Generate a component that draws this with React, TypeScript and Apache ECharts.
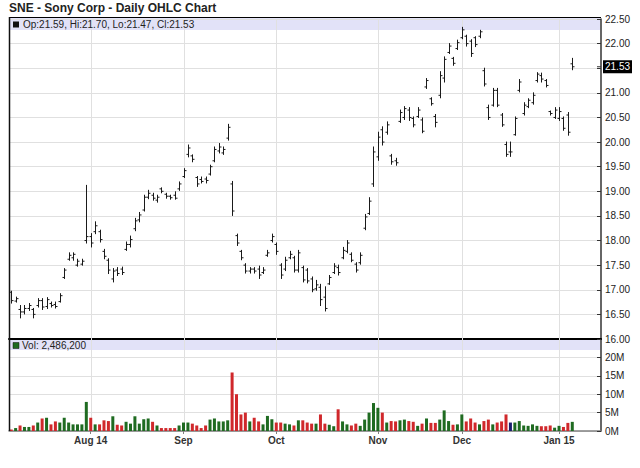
import React, { useEffect, useRef } from "react";
import * as echarts from "echarts";

// ---------- DATA ----------
const dates = [
  "2014-07-08","2014-07-09","2014-07-10","2014-07-11","2014-07-14","2014-07-15","2014-07-16","2014-07-17","2014-07-18","2014-07-21",
  "2014-07-22","2014-07-23","2014-07-24","2014-07-25","2014-07-28","2014-07-29","2014-07-30","2014-07-31","2014-08-01","2014-08-04",
  "2014-08-05","2014-08-06","2014-08-07","2014-08-08","2014-08-11","2014-08-12","2014-08-13","2014-08-14","2014-08-15","2014-08-18",
  "2014-08-19","2014-08-20","2014-08-21","2014-08-22","2014-08-25","2014-08-26","2014-08-27","2014-08-28","2014-08-29","2014-09-02",
  "2014-09-03","2014-09-04","2014-09-05","2014-09-08","2014-09-09","2014-09-10","2014-09-11","2014-09-12","2014-09-15","2014-09-16",
  "2014-09-17","2014-09-18","2014-09-19","2014-09-22","2014-09-23","2014-09-24","2014-09-25","2014-09-26","2014-09-29","2014-09-30",
  "2014-10-01","2014-10-02","2014-10-03","2014-10-06","2014-10-07","2014-10-08","2014-10-09","2014-10-10","2014-10-13","2014-10-14",
  "2014-10-15","2014-10-16","2014-10-17","2014-10-20","2014-10-21","2014-10-22","2014-10-23","2014-10-24","2014-10-27","2014-10-28",
  "2014-10-29","2014-10-30","2014-10-31","2014-11-03","2014-11-04","2014-11-05","2014-11-06","2014-11-07","2014-11-10","2014-11-11",
  "2014-11-12","2014-11-13","2014-11-14","2014-11-17","2014-11-18","2014-11-19","2014-11-20","2014-11-21","2014-11-24","2014-11-25",
  "2014-11-26","2014-11-28","2014-12-01","2014-12-02","2014-12-03","2014-12-04","2014-12-05","2014-12-08","2014-12-09","2014-12-10",
  "2014-12-11","2014-12-12","2014-12-15","2014-12-16","2014-12-17","2014-12-18","2014-12-19","2014-12-22","2014-12-23","2014-12-24",
  "2014-12-26","2014-12-29","2014-12-30","2014-12-31","2015-01-02","2015-01-05","2015-01-06","2015-01-07",
];

// empty trading-day slots on the right of the last bar
const padDates = ["2015-01-08","2015-01-09","2015-01-12","2015-01-13","2015-01-14","2015-01-15"];

const opens = [
  16.95,16.77,16.60,16.55,16.62,16.60,16.68,16.78,16.66,16.72,
  16.70,16.76,17.25,17.62,17.65,17.50,17.52,18.00,18.08,18.18,
  18.18,17.78,17.60,17.22,17.40,17.42,17.82,17.92,18.24,18.42,
  18.62,18.88,18.92,18.82,19.05,18.94,18.90,18.92,19.05,19.30,
  19.75,19.72,19.28,19.24,19.25,19.35,19.62,19.82,19.78,20.08,
  19.15,18.10,17.78,17.50,17.38,17.42,17.42,17.35,17.70,18.00,
  17.92,17.50,17.42,17.65,17.65,17.40,17.45,17.40,17.22,17.02,
  17.05,16.85,17.12,17.35,17.45,17.65,17.78,17.72,17.52,17.55,
  18.25,18.55,19.15,19.70,20.25,20.20,19.72,19.62,20.42,20.50,
  20.65,20.48,20.52,20.45,21.12,20.88,20.52,20.95,21.30,21.82,
  21.70,21.90,22.12,22.15,22.05,22.12,22.15,21.45,20.70,20.75,
  21.05,20.55,19.95,19.80,20.15,21.05,20.58,20.72,20.80,21.25,
  21.35,21.25,20.62,20.50,20.48,20.48,20.55,21.59,
];
const highs = [
  16.97,16.85,16.68,16.68,16.72,16.62,16.82,16.82,16.84,16.75,
  16.75,16.92,17.43,17.75,17.75,17.62,17.62,19.12,18.14,18.38,
  18.21,17.82,17.63,17.43,17.45,17.46,17.97,18.09,18.45,18.57,
  18.92,19.02,18.96,18.92,19.07,18.96,18.92,18.99,19.19,19.46,
  19.94,19.74,19.30,19.29,19.29,19.53,19.90,19.97,19.90,20.36,
  19.20,18.13,17.80,17.53,17.45,17.45,17.48,17.45,17.80,18.13,
  17.95,17.53,17.66,17.78,17.68,17.80,17.48,17.43,17.26,17.19,
  17.11,17.06,17.29,17.53,17.50,17.86,18.00,17.75,17.55,17.75,
  18.53,18.87,19.90,20.20,20.31,20.41,19.75,19.67,20.65,20.72,
  20.70,20.51,20.70,20.49,21.29,20.90,20.56,21.43,21.73,22.00,
  21.72,22.07,22.33,22.17,22.08,22.14,22.27,21.50,20.75,21.09,
  21.09,20.58,20.00,20.00,20.51,21.27,20.80,20.88,21.00,21.41,
  21.40,21.27,20.63,20.70,20.70,20.51,20.60,21.70,
];
const lows = [
  16.73,16.75,16.43,16.51,16.58,16.43,16.65,16.60,16.62,16.65,
  16.63,16.75,17.23,17.60,17.60,17.48,17.50,17.95,17.87,18.14,
  17.97,17.63,17.33,17.16,17.29,17.31,17.80,17.87,18.20,18.38,
  18.60,18.85,18.82,18.78,18.97,18.86,18.84,18.84,19.02,19.28,
  19.70,19.60,19.10,19.17,19.17,19.33,19.60,19.78,19.75,20.04,
  18.51,17.90,17.61,17.34,17.34,17.34,17.23,17.33,17.68,17.97,
  17.72,17.23,17.39,17.63,17.36,17.36,17.16,17.14,16.96,16.99,
  16.68,16.57,17.11,17.33,17.30,17.63,17.75,17.57,17.36,17.52,
  18.22,18.53,19.10,19.63,19.94,20.16,19.55,19.53,20.40,20.46,
  20.44,20.31,20.50,20.19,21.09,20.75,20.31,20.90,21.22,21.80,
  21.56,21.88,22.10,21.95,21.74,21.94,22.12,21.14,20.46,20.73,
  20.72,20.32,19.71,19.71,20.14,21.02,20.55,20.70,20.77,21.22,
  21.22,21.12,20.55,20.48,20.44,20.24,20.14,21.47,
];
const closes = [
  16.78,16.82,16.55,16.62,16.68,16.50,16.78,16.65,16.80,16.68,
  16.66,16.88,17.40,17.70,17.72,17.58,17.58,18.08,17.95,18.30,
  18.02,17.68,17.40,17.38,17.33,17.35,17.92,18.02,18.40,18.52,
  18.88,18.96,18.86,18.88,19.00,18.90,18.87,18.86,19.15,19.42,
  19.88,19.65,19.15,19.20,19.22,19.50,19.85,19.90,19.85,20.30,
  18.60,17.95,17.65,17.38,17.42,17.38,17.30,17.40,17.75,18.08,
  17.78,17.30,17.60,17.72,17.40,17.75,17.20,17.18,17.00,17.10,
  16.80,16.62,17.25,17.48,17.35,17.80,17.95,17.60,17.40,17.70,
  18.48,18.80,19.80,20.10,20.00,20.35,19.60,19.58,20.60,20.68,
  20.50,20.35,20.65,20.22,21.25,20.78,20.40,21.35,21.68,21.95,
  21.60,22.02,22.28,22.00,21.80,21.98,22.24,21.18,20.50,21.05,
  20.75,20.35,19.75,19.80,20.48,21.22,20.75,20.85,20.95,21.38,
  21.28,21.15,20.58,20.65,20.62,20.28,20.20,21.53,
];
// volume in millions of shares
const volumesM = [
  0.4,0.8,1.5,1.1,1.1,1.5,2.3,3.4,3.6,1.8,
  2.6,2.3,3.6,2.3,1.8,1.8,1.8,7.9,3.6,1.8,
  1.8,2.9,2.7,4.0,1.7,1.5,2.5,2.0,4.0,2.0,
  3.2,3.4,2.5,1.5,0.8,0.8,0.8,0.8,1.5,2.3,
  2.3,2.0,1.5,0.8,1.5,3.1,3.4,2.6,2.6,2.9,
  15.9,10.0,4.5,5.0,2.6,3.6,2.6,1.8,4.1,3.2,
  2.3,2.3,2.0,1.8,1.5,2.9,2.9,2.3,2.0,2.0,
  4.5,2.0,1.7,1.3,5.9,2.6,1.8,1.5,2.0,1.4,
  3.1,5.0,7.6,6.3,5.0,2.3,2.7,2.6,2.9,3.1,
  2.7,2.5,1.4,2.0,3.4,2.2,2.2,3.1,5.6,2.7,
  1.7,1.8,4.5,2.6,3.4,2.3,1.8,2.7,3.1,1.8,
  2.3,2.6,4.5,2.3,2.3,2.7,1.5,1.4,1.8,1.4,
  1.3,1.3,1.5,0.9,1.4,1.1,2.2,2.4862,
];
// u = up day, d = down day, n = unchanged
const volumeDirection = (
  "duduududud" + "duuuuuuudu" + "dddudduuuu" + "uududdddu u".replace(" ", "") +
  "udddduuuuu" + "ddddudduuu" + "dduududddu" + "dduuduuddu" +
  "uuuududduu" + "ddududduuu" + "duuddduddu" + "dddnuuuuuu" + "ddduuddu"
).split("");

const monthTickDates = ["2014-08-01", "2014-09-02", "2014-10-01", "2014-11-03", "2014-12-01", "2015-01-02"];
const monthTickLabels = ["Aug 14", "Sep", "Oct", "Nov", "Dec", "Jan 15"];

const chartTitle = "SNE - Sony Corp - Daily OHLC Chart";
const priceMin = 16;
const priceMax = 22.5;
const priceStep = 0.5;
const volMax = 25;
const volStep = 5;

// ---------- STYLE ----------
const FONT = '"Liberation Sans", Arial, Helvetica, sans-serif';
const UP = "#1f6b21";
const DOWN = "#d0282b";
const FLAT = "#1b1f6e";
const GRID = "#e0e0e0";
const BAND = "#e2e2f8";

export default function App() {
  const ref = useRef<HTMLDivElement>(null);

  useEffect(() => {
    if (!ref.current) return;
    const chart = echarts.init(ref.current, undefined, { renderer: "svg" });

    const categories = [...dates, ...padDates];
    const monthIdx = monthTickDates.map((d) => categories.indexOf(d));
    const isMonth = (i: number) => monthIdx.includes(i);
    const last = dates.length - 1;

    const ohlcData = dates.map((_, i) => [i, opens[i], highs[i], lows[i], closes[i]]);
    const volData = volumesM.map((v, i) => ({
      value: v * 1e6,
      itemStyle: {
        color: volumeDirection[i] === "u" ? UP : volumeDirection[i] === "d" ? DOWN : FLAT,
      },
    }));

    const ohlcText =
      `Op:${opens[last].toFixed(2)}, Hi:${highs[last].toFixed(2)}, ` +
      `Lo:${lows[last].toFixed(2)}, Cl:${closes[last].toFixed(2)}`;
    const volText = `Vol: ${Math.round(volumesM[last] * 1e6).toLocaleString("en-US")}`;

    const vGrid = (yVal: number) => (params: any, api: any) => {
      const cs = params.coordSys;
      const x = Math.round(api.coord([api.value(0), yVal])[0]) + 0.5;
      return {
        type: "line",
        shape: { x1: x, y1: cs.y, x2: x, y2: cs.y + cs.height },
        style: { stroke: GRID, lineWidth: 1 },
      };
    };

    const yAxisCommon = {
      type: "value",
      position: "right",
      axisLine: { show: true, lineStyle: { color: "#333", width: 1.5 } },
      axisTick: { show: true, inside: true, length: 4, lineStyle: { color: "#333" } },
      splitLine: { show: true, lineStyle: { color: GRID, width: 1 } },
    };

    const baseGraphics = [
      { id: "band0", type: "rect", z: 0, silent: true, shape: { x: 10, y: 18, width: 590, height: 12 }, style: { fill: BAND } },
      { id: "band1", type: "rect", z: 0, silent: true, shape: { x: 10, y: 340, width: 590, height: 10 }, style: { fill: BAND } },
      { id: "topBorder", type: "line", z: 5, shape: { x1: 9, y1: 17.5, x2: 601, y2: 17.5 }, style: { stroke: "#000", lineWidth: 1 } },
      { id: "leftBorder", type: "line", z: 5, shape: { x1: 9.5, y1: 17, x2: 9.5, y2: 431 }, style: { stroke: "#111", lineWidth: 1.5 } },
      {
        id: "title", type: "text", z: 10, x: 9, y: 8,
        style: { text: chartTitle, fontSize: 12, fontWeight: "bold", fontFamily: FONT, fill: "#222", verticalAlign: "middle" },
      },
      { id: "sq0", type: "rect", z: 10, shape: { x: 13, y: 21.5, width: 6, height: 6 }, style: { fill: "#111" } },
      {
        id: "leg0", type: "text", z: 10, x: 23, y: 24.5,
        style: { text: ohlcText, fontSize: 10, fontFamily: FONT, fill: "#222", verticalAlign: "middle" },
      },
      { id: "sq1", type: "rect", z: 10, shape: { x: 13, y: 342.5, width: 6, height: 6 }, style: { fill: UP, stroke: "#111", lineWidth: 0.5 } },
      {
        id: "leg1", type: "text", z: 10, x: 22, y: 345.5,
        style: { text: volText, fontSize: 10, fontFamily: FONT, fill: "#222", verticalAlign: "middle" },
      },
    ];

    const option: any = {
      animation: false,
      backgroundColor: "#fff",
      grid: [
        { left: 9, right: 39, top: 19, height: 320, outerBoundsMode: "none" },
        { left: 9, right: 39, top: 339, height: 92, outerBoundsMode: "none" },
      ],
      xAxis: [
        {
          type: "category", gridIndex: 0, data: categories, boundaryGap: true,
          axisLine: { show: true, lineStyle: { color: "#000", width: 2 } },
          axisTick: { show: false }, axisLabel: { show: false }, splitLine: { show: false },
        },
        {
          type: "category", gridIndex: 1, data: categories, boundaryGap: true,
          axisLine: { show: true, lineStyle: { color: "#808080", width: 1.5 } },
          axisTick: { show: true, alignWithLabel: true, interval: (i: number) => isMonth(i), length: 3, lineStyle: { color: "#808080" } },
          axisLabel: {
            show: true,
            interval: (i: number) => isMonth(i),
            formatter: (v: string) => {
              const k = monthTickDates.indexOf(v);
              return k >= 0 ? monthTickLabels[k] : "";
            },
            fontSize: 10, fontWeight: "bold", fontFamily: FONT, color: "#333", margin: 4,
          },
          splitLine: { show: false },
        },
      ],
      yAxis: [
        {
          ...yAxisCommon, gridIndex: 0, min: priceMin, max: priceMax, interval: priceStep,
          axisLabel: { formatter: (v: number) => v.toFixed(2), fontSize: 10, fontFamily: FONT, color: "#222", margin: 4 },
        },
        {
          ...yAxisCommon, gridIndex: 1, min: 0, max: volMax * 1e6, interval: volStep * 1e6,
          axisLabel: {
            formatter: (v: number) => `${Math.round(v / 1e6)}M`, showMaxLabel: false,
            fontSize: 10, fontFamily: FONT, color: "#222", margin: 4,
          },
        },
      ],
      series: [
        {
          type: "custom", name: "vgrid0", xAxisIndex: 0, yAxisIndex: 0, z: 1, silent: true,
          data: monthIdx.map((i) => [i, priceMin]), encode: { x: 0, y: 1 }, renderItem: vGrid(priceMin),
        },
        {
          type: "custom", name: "vgrid1", xAxisIndex: 1, yAxisIndex: 1, z: 1, silent: true,
          data: monthIdx.map((i) => [i, 0]), encode: { x: 0, y: 1 }, renderItem: vGrid(0),
        },
        {
          type: "custom", name: "OHLC", xAxisIndex: 0, yAxisIndex: 0, z: 3,
          data: ohlcData, encode: { x: 0, y: [1, 2, 3, 4] },
          renderItem: (params: any, api: any) => {
            const idx = api.value(0);
            const po = api.coord([idx, api.value(1)]);
            const ph = api.coord([idx, api.value(2)]);
            const pl = api.coord([idx, api.value(3)]);
            const pc = api.coord([idx, api.value(4)]);
            const x = Math.round(ph[0]) + 0.5;
            const st = { stroke: "#1a1a1a", lineWidth: 1 };
            return {
              type: "group",
              children: [
                { type: "line", shape: { x1: x, y1: ph[1] - 0.5, x2: x, y2: pl[1] + 0.5 }, style: st },
                { type: "line", shape: { x1: x - 2, y1: po[1], x2: x, y2: po[1] }, style: st },
                { type: "line", shape: { x1: x, y1: pc[1], x2: x + 2, y2: pc[1] }, style: st },
              ],
            };
          },
        },
        {
          type: "bar", name: "Volume", xAxisIndex: 1, yAxisIndex: 1, z: 3,
          data: volData, barWidth: 3,
        },
      ],
      graphic: { elements: baseGraphics },
    };

    chart.setOption(option);

    const yPix = chart.convertToPixel({ yAxisIndex: 0 } as any, closes[last]) as unknown as number;
    chart.setOption({
      graphic: {
        elements: [
          ...baseGraphics,
          { id: "lastTick", type: "line", z: 20, shape: { x1: 597, y1: yPix, x2: 601, y2: yPix }, style: { stroke: "#333", lineWidth: 1 } },
          {
            id: "lastBox", type: "text", z: 20, x: 603, y: yPix,
            style: {
              text: closes[last].toFixed(2), fontSize: 10, fontFamily: FONT, fill: "#fff",
              backgroundColor: "#000", padding: [1, 2, 1, 2], lineHeight: 11, verticalAlign: "middle",
            },
          },
        ],
      },
    });

    return () => chart.dispose();
  }, []);

  return (
    <div
      ref={ref}
      style={{ position: "fixed", left: 0, top: 0, width: 640, height: 468, background: "#fff" }}
    />
  );
}
